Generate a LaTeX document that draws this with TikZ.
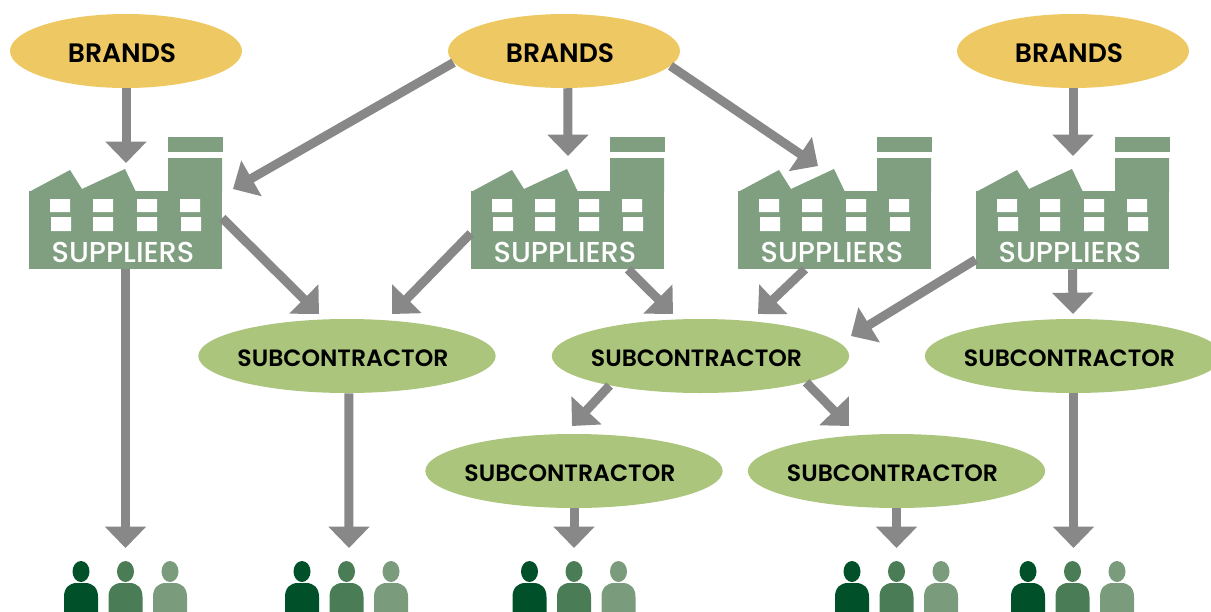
\documentclass[tikz,border=0pt]{standalone}
\usepackage{fontspec}
\setmainfont{Poppins}[BoldFont={Poppins SemiBold}]
\newfontfamily\mediumfont{Poppins Medium}
\usetikzlibrary{arrows.meta,shapes.geometric}

\definecolor{brandfill}{HTML}{EEC963}
\definecolor{subfill}{HTML}{ABC57C}
\definecolor{factoryfill}{HTML}{7F9F80}
\definecolor{flowgray}{HTML}{888888}
\definecolor{crewdark}{HTML}{00512A}
\definecolor{crewmid}{HTML}{4A7C55}
\definecolor{crewlight}{HTML}{7A9C7C}

\newcommand{\ovaltext}[1]{\makebox[0pt]{#1\hspace{6pt}}}

\tikzset{
    flow/.style={draw=flowgray, line width=6.75pt, -{Triangle[length=16pt, width=30pt]}},
    brand/.style={ellipse, fill=brandfill, inner sep=0pt, minimum width=174pt, minimum height=55.5pt,
        text height=17pt, text depth=0pt, font=\fontsize{20}{24}\selectfont\bfseries},
    subcon/.style={ellipse, fill=subfill, inner sep=0pt, minimum width=223pt, minimum height=55.5pt,
        text height=15.6pt, text depth=0pt, font=\fontsize{17.7}{21}\selectfont\bfseries},
    factorybody/.style={rectangle, fill=factoryfill, inner sep=0pt, minimum width=144.75pt, minimum height=58.5pt},
    factorytext/.style={text=white, inner sep=0pt, font=\fontsize{21.6}{26}\mediumfont},
    pics/factory/.style={code={
        \node[factorybody] (-body) at (125.5, 230) {};
        \fill[factoryfill] (29, 192) -- (70, 170) -- (82, 189) -- (125, 169) -- (136, 192) -- (168, 192)
            -- (168, 158) -- (222, 158) -- (222, 192) -- cycle;
        \fill[factoryfill] (168, 137) rectangle (223, 152);
        % windows
        \fill[white] (50, 199) rectangle (70, 212) (51, 217) rectangle (71, 231);
        \fill[white] (93, 199) rectangle (113, 212) (93, 217) rectangle (113, 231);
        \fill[white] (137, 199) rectangle (157, 212) (137, 217) rectangle (157, 231);
        \fill[white] (180, 199) rectangle (200, 212) (181, 217) rectangle (201, 231);
        \node[factorytext] (-text) at (123, 252) {SUPPLIERS};
    }},
    pics/worker/.style={code={
        \fill[#1] (81, 571.5) ellipse [x radius=8.5, y radius=10.5];
        \fill[#1] (64, 620) -- (64, 597) .. controls (64, 588) and (69, 583) .. (77, 583) -- (85, 583)
            .. controls (93, 583) and (98, 588) .. (98, 597) -- (98, 620) -- cycle;
    }},
    pics/crew/.style={code={
        \pic at (0, 0) {worker=crewdark};
        \pic at (44.5, 0) {worker=crewmid};
        \pic at (89, 0) {worker=crewlight};
    }},
}

\begin{document}
\begin{tikzpicture}[x=0.75pt, y=-0.75pt]
    \clip[use as bounding box] (0, 0) rectangle (1211, 611);

    % brands
    \node[brand] (brandA) at (126, 51) {\ovaltext{BRANDS}};
    \node[brand] (brandB) at (564, 51) {\ovaltext{BRANDS}};
    \node[brand] (brandC) at (1073, 51) {\ovaltext{BRANDS}};

    % factories
    \pic (supA) at (0, 0) {factory};
    \pic (supB) at (442, 0) {factory};
    \pic (supC) at (709, 0) {factory};
    \pic (supD) at (947, 0) {factory};

    % subcontractors
    \node[subcon] (subA) at (347, 356) {\ovaltext{SUBCONTRACTOR}};
    \node[subcon] (subB) at (700.5, 356) {\ovaltext{SUBCONTRACTOR}};
    \node[subcon] (subC) at (1073.5, 356) {\ovaltext{SUBCONTRACTOR}};
    \node[subcon] (subD) at (574, 471) {\ovaltext{SUBCONTRACTOR}};
    \node[subcon] (subE) at (896.5, 471) {\ovaltext{SUBCONTRACTOR}};

    % workers
    \pic at (0, 0) {crew};
    \pic at (221, 0) {crew};
    \pic at (448.5, 0) {crew};
    \pic at (771, 0) {crew};
    \pic at (947, 0) {crew};

    % arrow ends
    \coordinate (crewA) at (125.5, 548);
    \coordinate (crewB) at (349, 548);
    \coordinate (crewC) at (574, 548);
    \coordinate (crewD) at (896.5, 548);
    \coordinate (crewE) at (1073.5, 548);
    \coordinate (inAtop) at (126, 163);
    \coordinate (inAside) at (233, 189);
    \coordinate (inBtop) at (568, 156);
    \coordinate (inCtop) at (818, 166);
    \coordinate (inDtop) at (1073, 156);
    \coordinate (inSubAleft) at (319, 314);
    \coordinate (inSubAright) at (392, 314);
    \coordinate (inSubBleft) at (673, 314);
    \coordinate (inSubBmid) at (758, 314);
    \coordinate (inSubBright) at (851, 336);
    \coordinate (inSubC) at (1073, 314);
    \coordinate (inSubD) at (572, 426);
    \coordinate (inSubE) at (849, 426);

    % arrows
    \draw[flow] (brandA) -- (inAtop);
    \draw[flow] (brandB.186) -- (inAside);
    \draw[flow] (brandB.-84) -- (inBtop);
    \draw[flow] (brandB.-8) -- (inCtop);
    \draw[flow] (brandC) -- (inDtop);

    \draw[flow] (supA-body.7) -- (inSubAleft);
    \draw[flow] (supB-body.182) -- (inSubAright);
    \draw[flow] (supB-body.-33) -- (inSubBleft);
    \draw[flow] (supC-body.233) -- (inSubBmid);
    \draw[flow] (supD-body.197) -- (inSubBright);
    \draw[flow] (supD-body.south) -- (inSubC);
    \draw[flow] (subB.198) -- (inSubD);
    \draw[flow] (subB.-14) -- (inSubE);

    \draw[flow] (supA-body.south) -- (crewA);
    \draw[flow] (subA.-87) -- (crewB);
    \draw[flow] (subD.south) -- (crewC);
    \draw[flow] (subE.south) -- (crewD);
    \draw[flow] (subC.south) -- (crewE);
\end{tikzpicture}
\end{document}
